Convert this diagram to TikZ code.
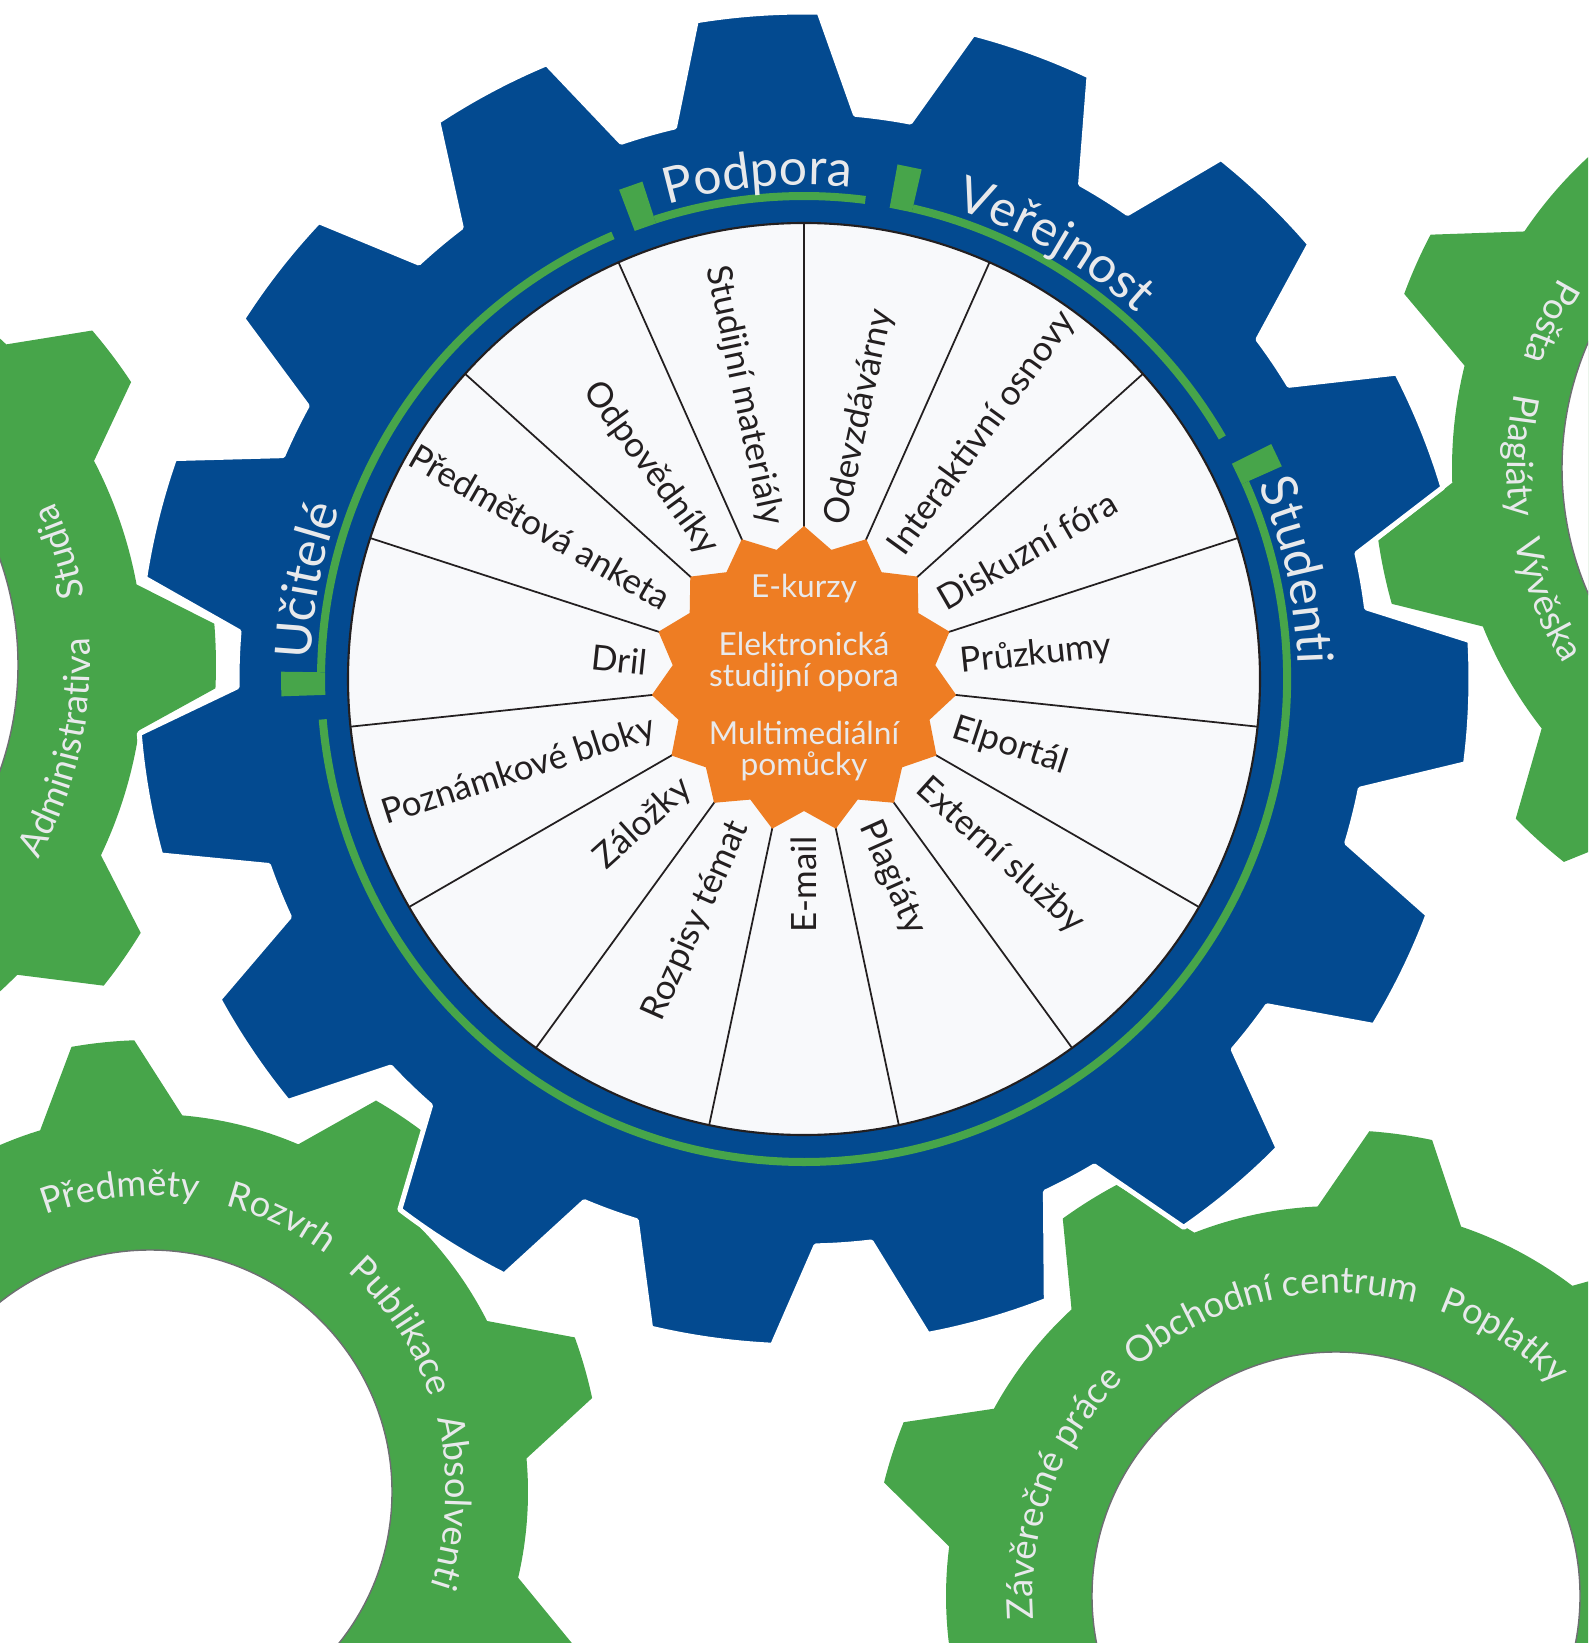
\documentclass[tikz,border=0pt]{standalone}
\usepackage{fontspec}
\setmainfont{Lato}
\usetikzlibrary{decorations.text}
\definecolor{eoblue}{HTML}{034A90}
\definecolor{eogreen}{HTML}{47A54A}
\definecolor{eoorange}{HTML}{EE7D23}
\definecolor{eodisk}{HTML}{F8F9FB}
\definecolor{eoink}{HTML}{231F20}
\definecolor{eopale}{HTML}{E8E9EB}
\definecolor{eohole}{HTML}{6D6E71}

% cog outline: teeth, first tooth angle, pitch, tip r, root r, tip half-angle, base half-angle
\newcommand{\cogoutline}[7]{({#2+#7}:#5)
  \foreach \k [evaluate=\k as \toothc using #2-#3*(\k-1)] in {1,...,#1} {
    -- ({\toothc+#7}:#5) -- ({\toothc+#6}:#4)
    arc[start angle={\toothc+#6}, end angle={\toothc-#6}, radius=#4]
    -- ({\toothc-#7}:#5)
    arc[start angle={\toothc-#7}, end angle={\toothc-#3+#7}, radius=#5]} -- cycle}
\newcommand{\cogfont}{\fontsize{10.3}{12}\selectfont\color{eopale}}
\newcommand{\ringfont}{\fontsize{14.2}{17}\selectfont\color{eopale}}

\begin{document}
\begin{tikzpicture}[x=0.01cm, y=0.01cm, line join=round,
    cogtext/.style={decorate, decoration={text along path, text align=center}},
    sector/.style={inner sep=0pt, text=eoink, font=\fontsize{9.9}{11}\selectfont},
    hub/.style={inner sep=0pt, text=eopale, align=center, font=\fontsize{9}{8.8}\selectfont}]
  \useasboundingbox (0,0) rectangle (1588,-1643);
  \clip (0,0) rectangle (1588,-1643);

  % green cogs round the edge
  \begin{scope}[shift={(-298,-665)}]
    \fill[eogreen] \cogoutline{10}{1}{36}{514}{442}{3.6}{9.5};
    \filldraw[fill=white, draw=eohole, line width=0.4pt] (0,0) circle[radius=316];
    \path[cogtext, decoration={text={|\cogfont|Administrativa}}] (-53:388) arc[start angle=-53, end angle=27, radius=388];
    \path[cogtext, decoration={text={|\cogfont|Studia}}] (-22.5:388) arc[start angle=-22.5, end angle=57.5, radius=388];
  \end{scope}
  \begin{scope}[shift={(1875,-468)}]
    \fill[eogreen] \cogoutline{10}{192}{36}{502}{423}{3.7}{10};
    \filldraw[fill=white, draw=eohole, line width=0.4pt] (0,0) circle[radius=313];
    \path[cogtext, decoration={text={|\cogfont|Pošta}}] (115.8:368) arc[start angle=115.8, end angle=195.8, radius=368];
    \path[cogtext, decoration={text={|\cogfont|Plagiáty}}] (138.1:368) arc[start angle=138.1, end angle=218.1, radius=368];
    \path[cogtext, decoration={text={|\cogfont|Vývěska}}] (161.8:368) arc[start angle=161.8, end angle=241.8, radius=368];
  \end{scope}
  \begin{scope}[shift={(150,-1492)}]
    \fill[eogreen] \cogoutline{9}{96}{40}{452}{378}{4}{10.9};
    \filldraw[fill=white, draw=eohole, line width=0.4pt] (0,0) circle[radius=242];
    \path[cogtext, decoration={text={|\cogfont|Předměty}}] (135.7:296) arc[start angle=135.7, end angle=55.7, radius=296];
    \path[cogtext, decoration={text={|\cogfont|Rozvrh}}] (104.4:296) arc[start angle=104.4, end angle=24.4, radius=296];
    \path[cogtext, decoration={text={|\cogfont|Publikace}}] (73.4:296) arc[start angle=73.4, end angle=-6.6, radius=296];
    \path[cogtext, decoration={text={|\cogfont|Absolventi}}] (38:296) arc[start angle=38, end angle=-42, radius=296];
  \end{scope}
  \begin{scope}[shift={(1336,-1596)}]
    \fill[eogreen] \cogoutline{9}{82}{40}{466}{390}{3.9}{10.7};
    \filldraw[fill=white, draw=eohole, line width=0.4pt] (0,0) circle[radius=244];
    \path[cogtext, decoration={text={|\cogfont|Závěrečné práce}}] (199.5:303) arc[start angle=199.5, end angle=119.5, radius=303];
    \path[cogtext, decoration={text={|\cogfont|Obchodní centrum}}] (143:303) arc[start angle=143, end angle=63, radius=303];
    \path[cogtext, decoration={text={|\cogfont|Poplatky}}] (97:303) arc[start angle=97, end angle=17, radius=303];
  \end{scope}

  % main blue cog
  \begin{scope}[shift={(804,-679)}]
    \filldraw[fill=eoblue, draw=white, line width=0.05cm] \cogoutline{15}{94}{24}{667}{567}{5.3}{9.2};
    % green ring pieces, each opened by a tab
    \foreach \a/\b in {179.2/113.3, 108/82.7, 77/30, 24/-175.2} {
      \draw[eogreen, line width=0.08cm] (\a:483) arc[start angle=\a, end angle=\b, radius=483];
      \fill[eogreen] (\a:479) -- ({\a+2.7}:479) -- ({\a+2.7}:523) -- (\a:523) -- cycle;
    }
    \path[cogtext, decoration={text={|\ringfont|Učitelé}}] (198.8:494) arc[start angle=198.8, end angle=138.8, radius=494];
    \path[cogtext, decoration={text={|\ringfont|Podpora}}] (125.3:494) arc[start angle=125.3, end angle=65.3, radius=494];
    \path[cogtext, decoration={text={|\ringfont|Veřejnost}}] (90:494) arc[start angle=90, end angle=30, radius=494];
    \path[cogtext, decoration={text={|\ringfont|Studenti}}] (42.4:494) arc[start angle=42.4, end angle=-17.6, radius=494];

    % white disk with spokes
    \filldraw[fill=eodisk, draw=eoink, line width=0.6pt] (0,0) circle[radius=456];
    \foreach \k in {0,...,14}
      \draw[eoink, line width=0.5pt] ({90-24*\k}:150) -- ({90-24*\k}:456);
    \fill[eoorange] (90:153) \foreach \k in {0,...,14} { -- ({90-24*\k}:153) -- ({78-24*\k}:132) } -- cycle;

    \foreach \a/\t [count=\i] in {78/Odevzdávárny, 54/Interaktivní osnovy, 30/Diskuzní fóra,
        6/Průzkumy, -18/Elportál, -42/Externí služby, -66/Plagiáty}
      \node[sector, anchor=west, rotate=\a] (secr\i) at (\a:157) {\t};
    \foreach \a/\t [count=\i] in {102/Studijní materiály, 126/Odpovědníky, 150/Předmětová anketa,
        174/Dril, 198/Poznámkové bloky, 222/Záložky, 246/Rozpisy témat, 270/E-mail}
      \node[sector, anchor=east, rotate=\a-180] (secl\i) at (\a:157) {\t};

    % base of a two-line node sits on its last line
    \node[hub, anchor=base] (hubtop) at (0,82) {E-kurzy};
    \node[hub, anchor=base] (hubmid) at (0,-7) {Elektronická\\studijní opora};
    \node[hub, anchor=base] (hubbot) at (0,-96) {Multimediální\\pomůcky};
  \end{scope}
\end{tikzpicture}
\end{document}
